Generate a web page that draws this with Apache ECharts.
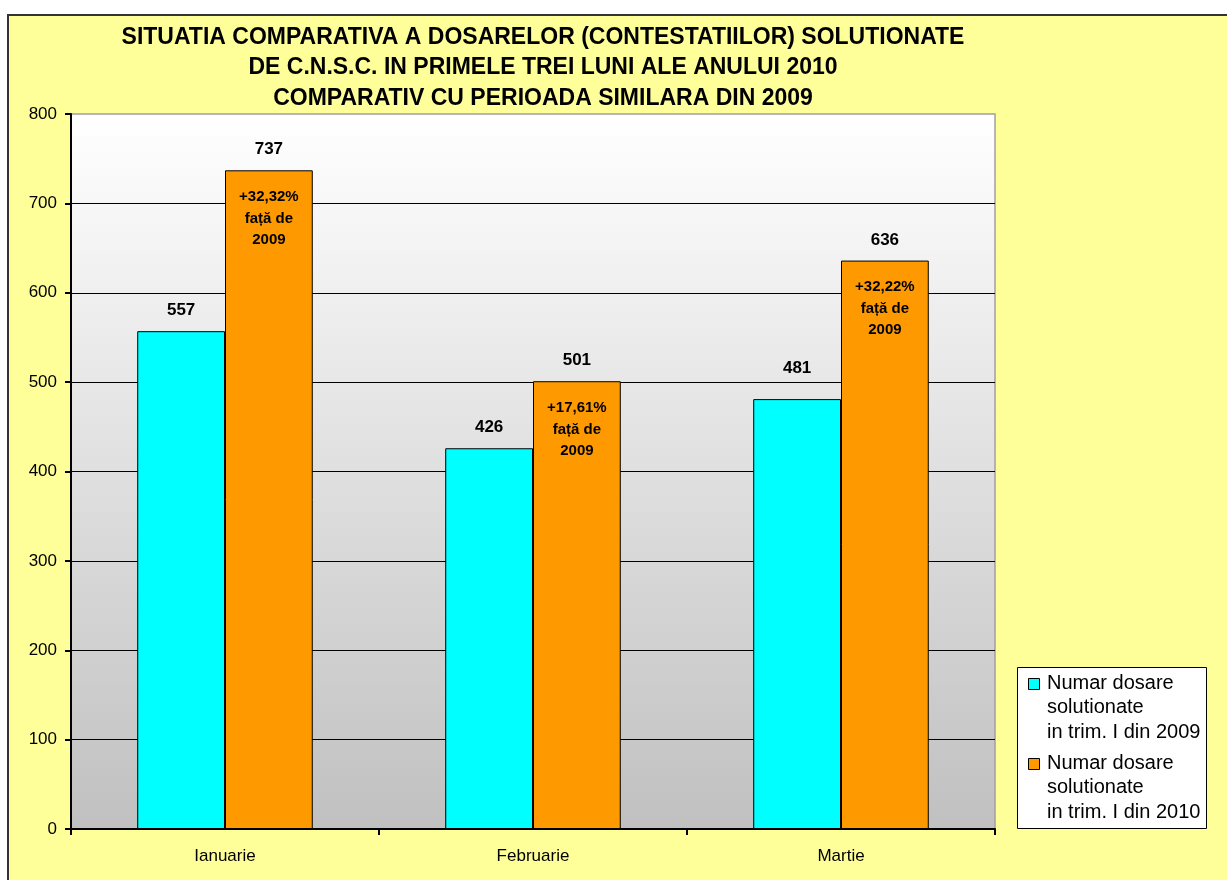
<!DOCTYPE html>
<html>
<head>
<meta charset="utf-8">
<script src="https://cdn.jsdelivr.net/npm/echarts@6/dist/echarts.min.js"></script>
<style>
  body { margin: 0; background: #fff; }
  #main { width: 1227px; height: 880px; }
</style>
</head>
<body>
<div id="main"></div>
<script>
var luni = ['Ianuarie', 'Februarie', 'Martie'];
var dosare2009 = [557, 426, 481];
var dosare2010 = [737, 501, 636];
var cresteri = ['+32,32%', '+17,61%', '+32,22%'];
var numeSerii = [
	'Numar dosare\nsolutionate\nin trim. I din 2009',
	'Numar dosare\nsolutionate\nin trim. I din 2010'
];
var culori = ['#00FFFF', '#FF9900'];
var titlu = 'SITUATIA COMPARATIVA A DOSARELOR (CONTESTATIILOR) SOLUTIONATE\n' +
	'DE C.N.S.C. IN PRIMELE TREI LUNI ALE ANULUI 2010\n' +
	'COMPARATIV CU PERIOADA SIMILARA DIN 2009';
var yMin = 0, yMax = 800, yPas = 100;

var font = '"Liberation Sans", Arial, sans-serif';

var myChart = echarts.init(document.getElementById('main'));

// legenda desenata manual (patratul sta in dreptul primului rand)
var legenda = [{
	type: 'rect', z: 5,
	shape: { x: 1017.5, y: 667.5, width: 189, height: 161 },
	style: { fill: '#fff', stroke: '#000', lineWidth: 1 }
}];
for (var i = 0; i < numeSerii.length; i++) {
	var yTop = 671 + i * 80;
	legenda.push({
		type: 'rect', z: 6,
		shape: { x: 1028.5, y: yTop + 7.5, width: 11, height: 11 },
		style: { fill: culori[i], stroke: '#000', lineWidth: 1 }
	});
	legenda.push({
		type: 'text', z: 6,
		style: {
			text: numeSerii[i], x: 1047, y: yTop,
			font: '20px ' + font, fill: '#000',
			lineHeight: 24.5, verticalAlign: 'top'
		}
	});
}

// eticheta de la Martie 2009 e putin mai sus in original
var date2009 = dosare2009.map(function (v, i) {
	return i === 2 ? { value: v, label: { distance: 22 } } : v;
});

var option = {
	animation: false,
	graphic: [{
		type: 'rect', z: -10,
		shape: { x: 8, y: 15, width: 1400, height: 1000 },
		style: { fill: '#FFFF99', stroke: '#333', lineWidth: 2 }
	}, {
		type: 'text', z: 5,
		style: {
			text: titlu, x: 543, y: 22, align: 'center', verticalAlign: 'top',
			font: 'bold 23px ' + font, fill: '#000', lineHeight: 30.5
		}
	}].concat(legenda),
	grid: {
		left: 71, top: 114, right: 232, bottom: 51,
		show: true,
		borderColor: '#a0a0a0', borderWidth: 1.5,
		backgroundColor: new echarts.graphic.LinearGradient(0, 0, 0, 1, [
			{ offset: 0, color: '#FFFFFF' },
			{ offset: 1, color: '#C0C0C0' }
		])
	},
	xAxis: [{
		type: 'category',
		data: luni,
		axisLine: { lineStyle: { color: '#000', width: 2 } },
		axisTick: { show: true, length: 6, lineStyle: { color: '#000', width: 2 } },
		axisLabel: { color: '#000', fontFamily: font, fontSize: 17, margin: 19 }
	}, {
		type: 'category',
		data: luni,
		show: false
	}],
	yAxis: {
		type: 'value',
		min: yMin, max: yMax, interval: yPas,
		axisLine: { show: true, lineStyle: { color: '#000', width: 2 } },
		axisTick: { show: true, length: 6, lineStyle: { color: '#000', width: 2 } },
		axisLabel: { color: '#000', fontFamily: font, fontSize: 17, margin: 14 },
		splitLine: { show: true, showMinLine: false, showMaxLine: false, lineStyle: { color: '#000', width: 1 } }
	},
	series: [{
		name: numeSerii[0],
		type: 'bar',
		data: date2009,
		barGap: '0%',
		barCategoryGap: '43%',
		itemStyle: { color: culori[0], borderColor: '#000', borderWidth: 1 },
		label: {
			show: true, position: 'top', distance: 12,
			color: '#000', fontFamily: font, fontWeight: 'bold', fontSize: 17
		}
	}, {
		name: numeSerii[1],
		type: 'bar',
		data: dosare2010,
		barGap: '0%',
		barCategoryGap: '43%',
		itemStyle: { color: culori[1], borderColor: '#000', borderWidth: 1 },
		label: {
			show: true, position: 'insideTop', distance: 16,
			color: '#000', fontFamily: font, fontWeight: 'bold', fontSize: 15,
			lineHeight: 21.5,
			formatter: function (p) {
				return cresteri[p.dataIndex] + '\nfață de\n2009';
			}
		}
	}, {
		// loc gol pe axa ascunsa, ca eticheta de valoare sa cada peste bara portocalie
		name: 'gol',
		type: 'bar',
		xAxisIndex: 1,
		data: ['-', '-', '-'],
		barGap: '0%',
		barCategoryGap: '43%'
	}, {
		name: 'valori2010',
		type: 'bar',
		xAxisIndex: 1,
		data: dosare2010,
		barGap: '0%',
		barCategoryGap: '43%',
		itemStyle: { color: 'rgba(0,0,0,0)' },
		label: {
			show: true, position: 'top', distance: 12,
			color: '#000', fontFamily: font, fontWeight: 'bold', fontSize: 17
		}
	}]
};

myChart.setOption(option);
</script>
</body>
</html>
